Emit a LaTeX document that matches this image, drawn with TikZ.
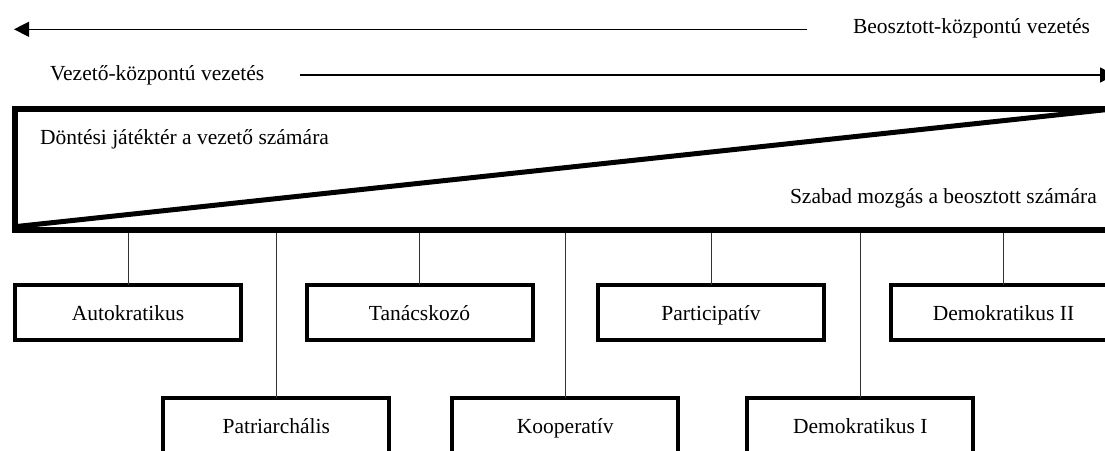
\documentclass[tikz,border=0pt]{standalone}
\usepackage{fontspec}
\setmainfont{Liberation Serif}
\usetikzlibrary{arrows.meta}
\begin{document}
\begin{tikzpicture}[x=1pt,y=-1pt,
  every node/.style={font=\fontsize{21.5}{24}\selectfont, inner sep=0pt, outer sep=0pt},
  stylebox/.style={draw, line width=4pt, minimum width=226pt, minimum height=55pt,
    text height=16pt, text depth=0pt},
  link/.style={line width=1pt, draw=black!80},
  scalearrow/.style={line width=1.3pt, -{Triangle[length=15pt,width=15pt]}},
  frameline/.style={line width=6pt, line join=miter},
  diagline/.style={line width=5pt, line cap=butt},
]
\useasboundingbox (0,0) rectangle (1105,450);
\clip (0,0) rectangle (1105,450);

% direction arrows and their captions
\node[anchor=base west] (bk) at (853,33.5) {Beosztott-központú vezetés};
\node[anchor=base west] (vk) at (50,80) {Vezető-központú vezetés};
\coordinate (a1s) at (807,29.3);
\coordinate (a1e) at (14,29.3);
\draw[scalearrow] (a1s) -- (a1e);
\coordinate (a2s) at (300,75);
\coordinate (a2e) at (1115,75);
\draw[scalearrow] (a2s) -- (a2e);

% decision space frame with its diagonal split
\coordinate (fTL) at (14.5,109);
\coordinate (fBR) at (1112,229.5);
\draw[frameline] (fTL) rectangle (fBR);
\draw[diagline] (fTL |- fBR) ++(2,-3) -- (fBR |- fTL);
\node[anchor=base west] (lead) at (40,144.7) {Döntési játéktér a vezető számára};
\node[anchor=base west] (staff) at (790,203) {Szabad mozgás a beosztott számára};

% leadership styles
\node[stylebox] (s1) at (128,312.5) {Autokratikus};
\node[stylebox] (s3) at (419.5,312.5) {Tanácskozó};
\node[stylebox] (s5) at (711,312.5) {Participatív};
\node[stylebox] (s7) at (1003.5,312.5) {Demokratikus II};
\node[stylebox] (s2) at (276.3,425.2) {Patriarchális};
\node[stylebox] (s4) at (565.3,425.2) {Kooperatív};
\node[stylebox] (s6) at (860.3,425.2) {Demokratikus I};

% connectors from the frame to the styles
\foreach \s in {s1,s2,s3,s4,s5,s6,s7}
  \draw[link] (\s.north |- fBR) ++(0,3) -- (\s.north);
\end{tikzpicture}
\end{document}
